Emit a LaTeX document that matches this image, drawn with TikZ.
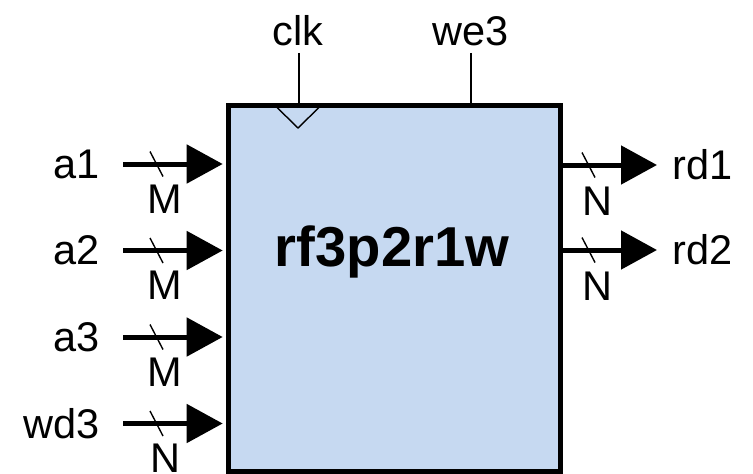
\documentclass[tikz,border=0pt]{standalone}
\usepackage{fontspec}
\setmainfont{Liberation Sans}
\usetikzlibrary{arrows.meta}
\definecolor{rfblue}{RGB}{198,217,241}

\tikzset{
    lbl/.style={font=\fontsize{29.5}{35}\selectfont, inner sep=0pt},
    bus/.style={line width=0.125cm, -{Triangle[length=0.9cm, width=0.95cm]}},
    tick/.style={line width=0.035cm},
}

\begin{document}
\begin{tikzpicture}[x=0.025cm, y=-0.025cm]
    \useasboundingbox (0,0) rectangle (753,473);

    % the register file block
    \node[draw, fill=rfblue, line width=0.125cm, inner sep=0pt, anchor=north west,
          minimum width=8.3cm, minimum height=9.15cm] (rf) at (225.5,103) {};
    \node[font=\fontsize{40}{48}\selectfont\bfseries, inner sep=0pt] (name) at (392,252) {rf3p2r1w};

    % clock input and write enable
    \draw[tick] (275,105.5) -- (298,128) -- (321,105.5);
    \node[lbl] (clk) at (298,31) {clk};
    \node[lbl] (we) at (471,31) {we3};
    \coordinate (clkin) at (299,53);
    \coordinate (wein) at (471,53);
    \draw[tick] (clkin) -- (clkin |- rf.north);
    \draw[tick] (wein) -- (wein |- rf.north);

    % address and data inputs on the left
    \foreach \name/\y/\w in {a1/164/M, a2/250.5/M, a3/337/M, wd3/423.5/N} {
        \node[lbl, anchor=east] (\name) at (100,\y) {\name};
        \coordinate (\name in) at (123,\y);
        \draw[bus, shorten >=0.07cm] (\name in) -- (\name in -| rf.west);
        \draw[tick] (150,\y-12.5) -- (163,\y+12.5);
        \node[lbl] (\name w) at (165,\y+35) {\w};
    }

    % read data outputs on the right
    \foreach \name/\y in {rd1/165, rd2/250} {
        \node[lbl, anchor=west] (\name) at (672,\y) {\name};
        \coordinate (\name out) at (657,\y);
        \draw[bus] (\name out -| rf.east) -- (\name out);
        \draw[tick] (582,\y-12.5) -- (595,\y+12.5);
        \node[lbl] (\name w) at (597,\y+36) {N};
    }
\end{tikzpicture}
\end{document}
